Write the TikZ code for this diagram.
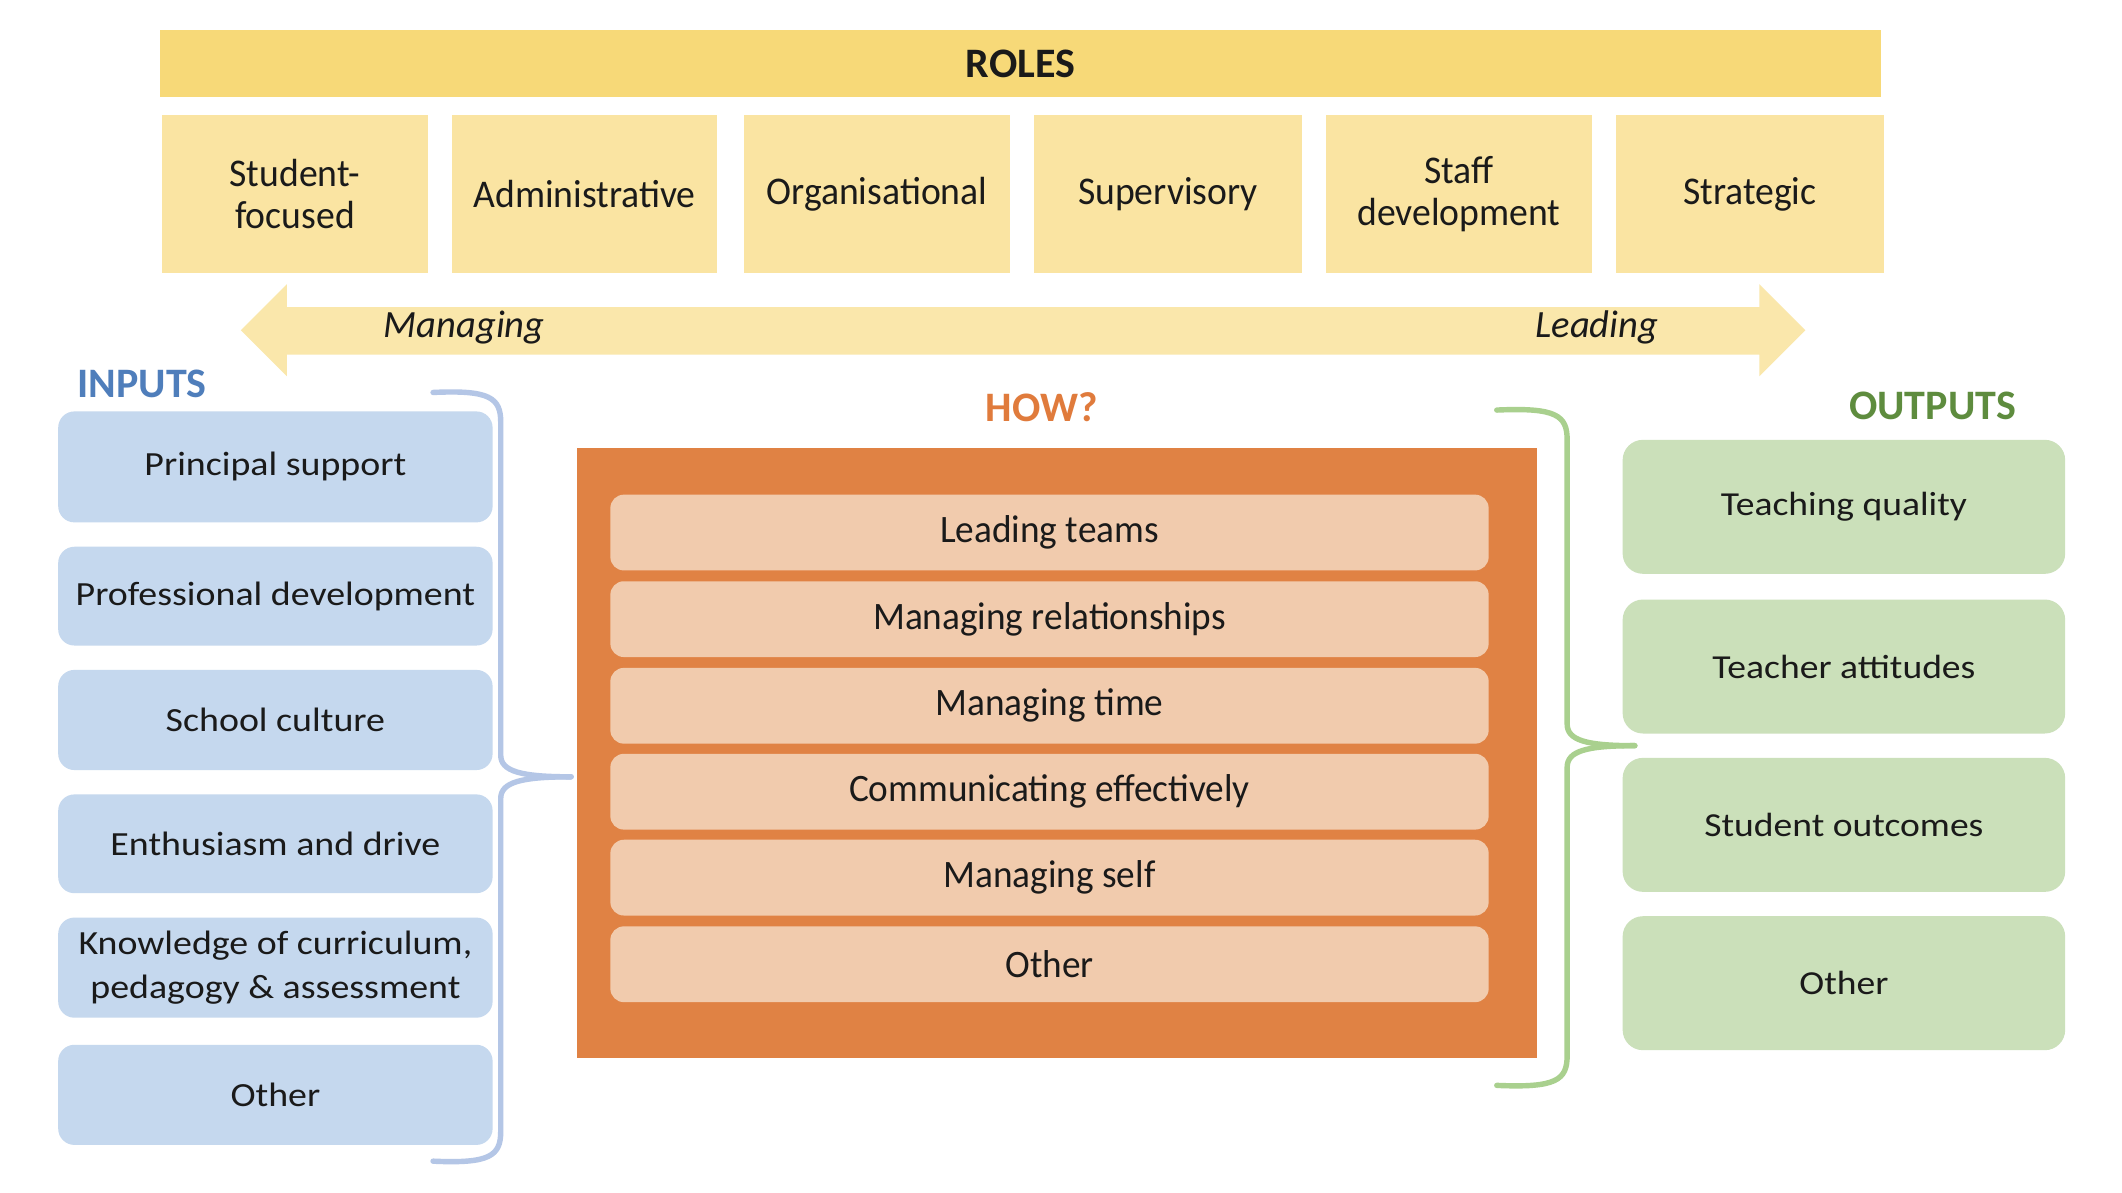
\documentclass[tikz,border=0pt]{standalone}
\usepackage{fontspec}
\setmainfont{Carlito}
\newfontfamily\widefont{Carlito}[FakeStretch=1.12]
\newfontfamily\narrowfont{Carlito}[FakeStretch=0.96]
\definecolor{rolebar}{HTML}{F7D978}
\definecolor{rolebox}{HTML}{FAE4A2}
\definecolor{arrowfill}{HTML}{FAE7AB}
\definecolor{inbox}{HTML}{C5D8EE}
\definecolor{inbrace}{HTML}{B4C6E6}
\definecolor{intext}{HTML}{4F7EBB}
\definecolor{howbox}{HTML}{E08244}
\definecolor{howtext}{HTML}{E07B3C}
\definecolor{item}{HTML}{F1CBAD}
\definecolor{outbrace}{HTML}{A9D08E}
\definecolor{outtext}{HTML}{5E8C3E}
\definecolor{outbox}{HTML}{CBE0BA}
\definecolor{ink}{HTML}{1A1A1A}
\begin{document}
\begin{tikzpicture}[x=1pt,y=-1pt,
  rolestyle/.style={fill=rolebox, draw=none, minimum width=196pt, minimum height=117pt, inner sep=0pt, align=center, text=ink, font=\narrowfont\fontsize{29}{31}\selectfont},
  instyle/.style={fill=inbox, draw=none, rounded corners=12pt, minimum width=321pt, inner sep=0pt, align=center, text=ink, font=\widefont\fontsize{25}{32}\selectfont},
  itemstyle/.style={fill=item, draw=none, rounded corners=10pt, minimum width=649pt, minimum height=56pt, inner sep=0pt, text=ink, font=\narrowfont\fontsize{28.7}{30}\selectfont},
  outstyle/.style={fill=outbox, draw=none, rounded corners=15pt, minimum width=327pt, minimum height=99pt, inner sep=0pt, text=ink, font=\widefont\fontsize{24.8}{30}\selectfont},
  titlestyle/.style={inner sep=0pt, font=\bfseries\fontsize{31}{34}\selectfont},
  italstyle/.style={inner sep=0pt, text=ink, font=\itshape\fontsize{28.5}{32}\selectfont},
  bracestyle/.style={line width=4pt, line cap=round, line join=round}
]
\useasboundingbox (0,0) rectangle (1568,881);
\fill[white] (0,0) rectangle (1568,881);

% ROLES
\node[fill=rolebar, minimum width=1272pt, minimum height=50pt, inner sep=0pt, text=ink, font=\bfseries\fontsize{31}{34}\selectfont] (roles) at (754,47) {ROLES};
\node[rolestyle] (r1) at (218,143.5) {Student-\\focused};
\node[rolestyle] (r2) at (432,143.5) {Administrative};
\node[rolestyle] (r3) at (648,143.5) {Organisational};
\node[rolestyle, minimum width=198pt] (r4) at (863,143.5) {Supervisory};
\node[rolestyle] (r5) at (1078,143.5) {Staff\\development};
\node[rolestyle, minimum width=198pt] (r6) at (1293,143.5) {Strategic};

% double arrow
\fill[arrowfill] (178,244) -- (212,210) -- (212,227) -- (1300,227) -- (1300,210) -- (1334,244) -- (1300,278) -- (1300,262) -- (212,262) -- (212,278) -- cycle;
\node[italstyle] (managing) at (343,242) {Managing};
\node[italstyle] (leading) at (1180,242) {Leading};

% INPUTS
\node[titlestyle, text=intext] (inputs) at (105,284) {INPUTS};
\node[instyle, minimum height=82pt] (i1) at (203.5,345) {Principal support};
\node[instyle, minimum height=73pt] (i2) at (203.5,440.5) {Professional development};
\node[instyle, minimum height=74pt] (i3) at (203.5,532) {School culture};
\node[instyle, minimum height=73pt] (i4) at (203.5,623.5) {Enthusiasm and drive};
\node[instyle, minimum height=74pt] (i5) at (203.5,715) {Knowledge of curriculum,\\pedagogy \& assessment};
\node[instyle, minimum height=74pt] (i6) at (203.5,809) {Other};

% blue brace
\coordinate (bt) at (320,290);
\coordinate (btip) at (422,574);
\coordinate (bb) at (320,858);
\draw[bracestyle, inbrace] (bt) .. controls (362,288) and (370,294) .. (370,312) -- (370,558)
  .. controls (370,570) and (385,574) .. (btip);
\draw[bracestyle, inbrace] (btip) .. controls (385,574) and (370,578) .. (370,590) -- (370,836)
  .. controls (370,854) and (362,860) .. (bb);

% HOW
\node[titlestyle, text=howtext] (how) at (770,301) {HOW?};
\node[fill=howbox, minimum width=710pt, minimum height=451pt, inner sep=0pt] (howbox) at (781,556.5) {};
\node[itemstyle] (h1) at (775.5,393.5) {Leading teams};
\node[itemstyle] (h2) at (775.5,457.5) {Managing relationships};
\node[itemstyle] (h3) at (775.5,521.5) {Managing time};
\node[itemstyle] (h4) at (775.5,585) {Communicating effectively};
\node[itemstyle] (h5) at (775.5,648.5) {Managing self};
\node[itemstyle] (h6) at (775.5,712.5) {Other};

% green brace
\coordinate (gt) at (1106,303);
\coordinate (gtip) at (1208,551);
\coordinate (gb) at (1106,802);
\draw[bracestyle, outbrace] (gt) .. controls (1150,301) and (1158,307) .. (1158,325) -- (1158,535)
  .. controls (1158,547) and (1172,551) .. (gtip);
\draw[bracestyle, outbrace] (gtip) .. controls (1172,551) and (1158,555) .. (1158,567) -- (1158,780)
  .. controls (1158,798) and (1150,804) .. (gb);

% OUTPUTS
\node[titlestyle, text=outtext] (outputs) at (1428,300) {OUTPUTS};
\node[outstyle] (o1) at (1362.5,374.5) {Teaching quality};
\node[outstyle] (o2) at (1362.5,492.5) {Teacher attitudes};
\node[outstyle] (o3) at (1362.5,609.5) {Student outcomes};
\node[outstyle] (o4) at (1362.5,726.5) {Other};
\end{tikzpicture}
\end{document}
